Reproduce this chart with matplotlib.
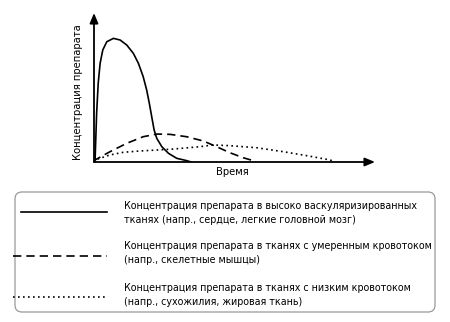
import matplotlib
matplotlib.use("Agg")
import matplotlib.pyplot as plt
from matplotlib.patches import FancyBboxPatch
from matplotlib.lines import Line2D

plt.rcParams['font.family'] = ['DejaVu Sans']
plt.rcParams['font.stretch'] = 'condensed'

# Curves (time, concentration)
high_t = [0, 0.04, 0.10, 0.16, 0.23, 0.33, 0.48, 0.73, 0.98, 1.23, 1.48, 1.67, 1.85, 1.98,
          2.08, 2.17, 2.26, 2.36, 2.55, 2.80, 3.11, 3.49, 3.65]
high_c = [0, 0.14, 3.36, 5.40, 6.71, 7.62, 8.18, 8.41, 8.30, 7.96, 7.39, 6.71, 5.80, 4.90,
          3.99, 3.08, 2.18, 1.61, 1.04, 0.59, 0.25, 0.09, 0]
mid_t = [0, 0.04, 0.60, 1.23, 1.85, 2.36, 2.86, 3.48, 4.11, 4.61, 5.11, 5.61, 5.99, 6.1]
mid_c = [0, 0.14, 0.70, 1.27, 1.72, 1.90, 1.88, 1.72, 1.43, 1.04, 0.63, 0.29, 0.09, 0]
low_t = [0, 0.04, 0.60, 1.10, 1.73, 2.98, 3.98, 4.48, 5.11, 6.12, 7.12, 8.0, 8.87, 9.0]
low_c = [0, 0.14, 0.48, 0.66, 0.75, 0.88, 1.04, 1.16, 1.11, 0.97, 0.70, 0.43, 0.14, 0.05]

x_label = "Время"
y_label = "Концентрация препарата"
legend_texts = [
    "Концентрация препарата в высоко васкуляризированных\nтканях (напр., сердце, легкие головной мозг)",
    "Концентрация препарата в тканях с умеренным кровотоком\n(напр., скелетные мышцы)",
    "Концентрация препарата в тканях с низким кровотоком\n(напр., сухожилия, жировая ткань)",
]

W, H = 450, 322
fig = plt.figure(figsize=(W / 100, H / 100), dpi=100)

# main axes: px x 94..375, y 13..162
ax = fig.add_axes([94 / W, (H - 162) / H, (375 - 94) / W, (162 - 13) / H])
ax.set_xlim(0, 10 * 281 / 266)
ax.set_ylim(0, 10 * 149 / 147)
for s in ax.spines.values():
    s.set_visible(False)
ax.set_xticks([])
ax.set_yticks([])
ax.patch.set_alpha(0)

lw = 1.2
ax.plot(high_t, high_c, color='black', lw=lw, solid_joinstyle='round')
ax.plot(mid_t, mid_c, color='black', lw=lw, dashes=(5, 3))
ax.plot(low_t, low_c, color='black', lw=lw, dashes=(1, 2))

arrow = dict(arrowstyle='-|>,head_length=0.6,head_width=0.25', color='black', lw=1.3,
             shrinkA=0, shrinkB=0)
ax.annotate('', xy=(1, 0), xytext=(0, 0), xycoords='axes fraction', arrowprops=arrow)
ax.annotate('', xy=(0, 1), xytext=(0, 0), xycoords='axes fraction', arrowprops=arrow)

# overlay in pixel coords for labels and legend
ov = fig.add_axes([0, 0, 1, 1])
ov.set_xlim(0, W)
ov.set_ylim(H, 0)
ov.axis('off')
ov.patch.set_alpha(0)

fs = 7.7
ov.text(232, 172, x_label, ha='center', va='center', fontsize=fs + 0.3)
ov.text(78, 92, y_label, ha='center', va='center', rotation=90, fontsize=fs + 0.3)

box = FancyBboxPatch((15, 192), 420, 120, boxstyle='round,pad=0,rounding_size=7',
                     fc='white', ec='#999999', lw=0.9)
ov.add_patch(box)

styles = [dict(ls='-'), dict(dashes=(5, 3)), dict(dashes=(1, 2))]
line_y = [212, 256, 297]
line_x = [(21, 107), (13, 107), (13, 105)]
text_y = [213, 253, 295]
for txt, st, ly, lx, ty in zip(legend_texts, styles, line_y, line_x, text_y):
    ov.add_line(Line2D(list(lx), [ly, ly], color='black', lw=1.2, **st))
    ov.text(124, ty, txt, ha='left', va='center', fontsize=fs, linespacing=1.55)

fig.savefig('out.png', dpi=100)
